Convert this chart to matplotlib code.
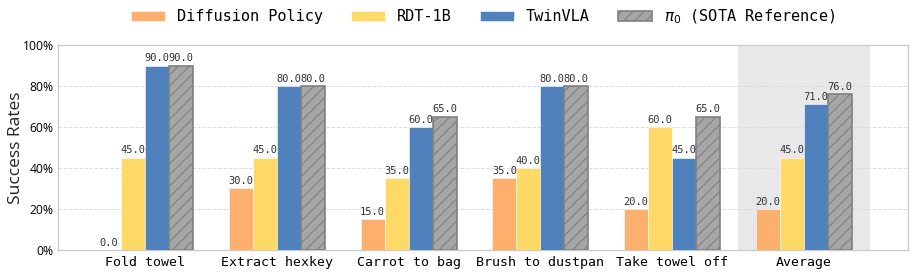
import matplotlib
matplotlib.use("Agg")
import matplotlib.pyplot as plt
from matplotlib.ticker import PercentFormatter
import numpy as np

tasks = ['Fold towel', 'Extract hexkey', 'Carrot to bag', 'Brush to dustpan',
         'Take towel off', 'Average']
diffusion = [0.0, 30.0, 15.0, 35.0, 20.0, 20.0]
rdt = [45.0, 45.0, 35.0, 40.0, 60.0, 45.0]
twinvla = [90.0, 80.0, 60.0, 80.0, 45.0, 71.0]
pi0 = [90.0, 80.0, 65.0, 80.0, 65.0, 76.0]

series = [
    ('Diffusion Policy', diffusion, '#FDAF6E'),
    ('RDT-1B', rdt, '#FED966'),
    ('TwinVLA', twinvla, '#4F81BD'),
    (r'$\pi_0$ (SOTA Reference)', pi0, '#A6A6A6'),
]

plt.rcParams['font.family'] = ['Open Sans', 'DejaVu Sans']
plt.rcParams['hatch.color'] = '#7a7a7a'
plt.rcParams['hatch.linewidth'] = 0.8

fig = plt.figure(figsize=(9.14, 2.77), dpi=100)
ax = fig.add_axes([0.0635, 0.0975, 0.93, 0.74])

x = np.arange(len(tasks))
w = 0.182

# shaded background for the average column
ax.axvspan(4.5, 5.5, color='#e8e8e8', zorder=0, lw=0)

for i, (name, vals, col) in enumerate(series):
    pos = x + (i - 1.5) * w
    if i == 3:
        bars = ax.bar(pos, vals, w, color=col, edgecolor='#808080', linewidth=1.2,
                      hatch='///', label=name, zorder=3)
    else:
        bars = ax.bar(pos, vals, w, color=col, edgecolor='white', linewidth=0.4,
                      label=name, zorder=3)
    for b, v in zip(bars, vals):
        ax.text(b.get_x() + b.get_width() / 2, v + 1.2, f'{v:.1f}',
                ha='center', va='bottom', fontsize=7.5, family='DejaVu Sans Mono',
                color='#333333', zorder=4)

ax.set_xlim(-0.66, 5.79)
ax.set_ylim(0, 100)
ax.set_xticks(x)
ax.set_xticklabels(tasks, family='DejaVu Sans Mono', fontsize=9.5)
ax.set_yticks([0, 20, 40, 60, 80, 100])
ax.yaxis.set_major_formatter(PercentFormatter(decimals=0))
ax.tick_params(axis='y', labelsize=8.7, length=0, pad=3)
ax.tick_params(axis='x', length=0, pad=4)
ax.set_ylabel('Success Rates', fontsize=12.5, color='#222222')
ax.yaxis.set_label_coords(-0.04, 0.5)
ax.grid(axis='y', linestyle='--', color='#dddddd', linewidth=0.7, zorder=1)
ax.set_axisbelow(True)
for s in ax.spines.values():
    s.set_color('#cccccc')
    s.set_linewidth(1.0)

ax.legend(loc='upper center', bbox_to_anchor=(0.5, 1.25), ncol=4, frameon=False,
          prop={'family': 'DejaVu Sans Mono', 'size': 11}, handlelength=2.2,
          columnspacing=1.85, handletextpad=0.8)

fig.savefig('out.png', dpi=100)
